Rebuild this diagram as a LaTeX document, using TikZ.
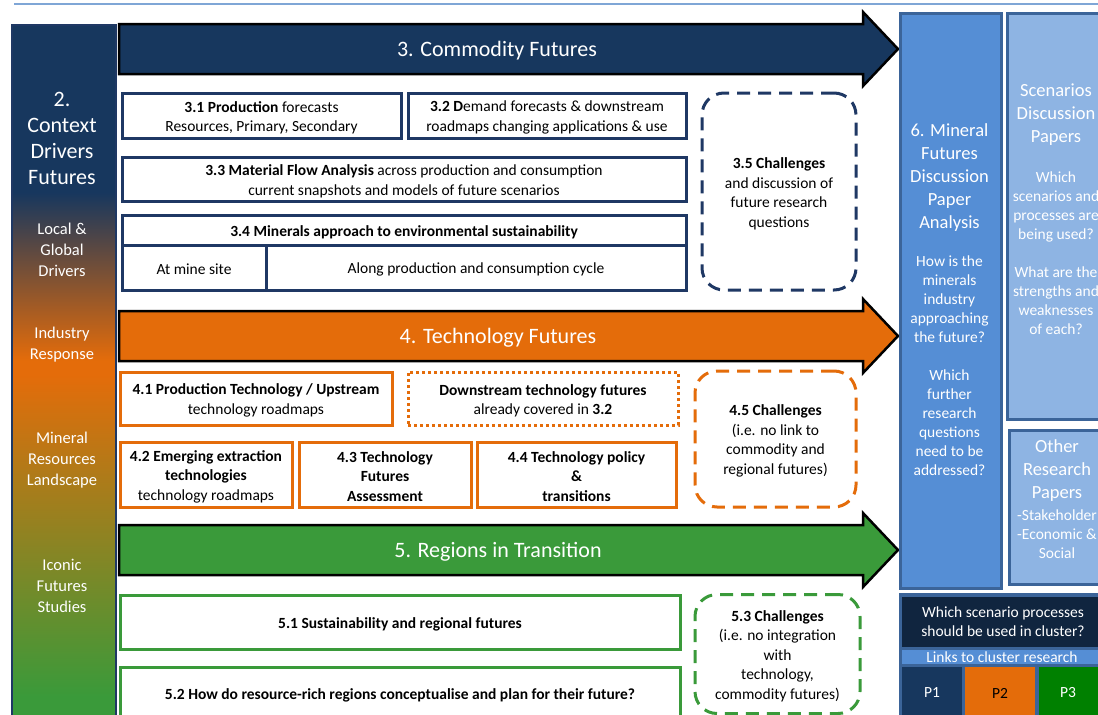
\documentclass[tikz,border=0pt]{standalone}
\usepackage{fontspec}
\setmainfont{Carlito}
\usepackage{tikz}

\definecolor{comnavy}{HTML}{17375E}
\definecolor{boxnavy}{HTML}{1F3864}
\definecolor{tecorange}{HTML}{E46C0A}
\definecolor{regreen}{HTML}{3A9A3A}
\definecolor{colblue}{HTML}{558ED5}
\definecolor{colborder}{HTML}{3B6499}
\definecolor{scenblue}{HTML}{8EB4E3}
\definecolor{darknavy}{HTML}{10253F}
\definecolor{pgreen}{HTML}{008000}
\definecolor{topline}{HTML}{7FA6D6}

\pgfdeclareverticalshading{ctxshade}{100bp}{color(0bp)=(regreen); color(27bp)=(regreen); color(50bp)=(tecorange); color(51bp)=(tecorange); color(63bp)=(comnavy); color(100bp)=(comnavy)}

\newcommand{\bodyfont}{\fontsize{15.5}{19.5}\selectfont}
\newcommand{\arrowfont}{\fontsize{22}{26}\selectfont}
\newcommand{\ctxbig}{\fontsize{22}{26}\selectfont}
\newcommand{\ctxsmall}{\fontsize{16.5}{21}\selectfont}
\newcommand{\colbig}{\fontsize{18.5}{23}\selectfont}
\newcommand{\colsmall}{\fontsize{15.5}{19}\selectfont}
% taller first line, pushes box text down a little
\newcommand{\tstrut}{\rule{0pt}{15pt}}

\begin{document}
\begin{tikzpicture}[x=1pt, y=-1pt,
	navybox/.style={draw=boxnavy, line width=3pt, fill=white, inner sep=0pt, align=center, font=\bodyfont},
	orangebox/.style={navybox, draw=tecorange},
	greenbox/.style={navybox, draw=regreen},
	challenge/.style={navybox, rounded corners=22pt, dash pattern=on 13pt off 8pt},
	bigarrow/.style={draw=black, line width=2.5pt},
	arrowlabel/.style={text=white, font=\arrowfont},
	colbox/.style={draw=colborder, line width=3pt, inner sep=0pt, anchor=north west},
	coltext/.style={text=white, align=center, inner sep=0pt}]
	\useasboundingbox (0,0) rectangle (1098,715);
	\draw[topline, line width=1.5pt] (14,4) -- (1098,4);
	% 2. context column
	\node[draw=boxnavy, line width=2pt, shading=ctxshade, inner sep=0pt, minimum width=104, minimum height=700, anchor=north west] (ctx) at (10.5,23.5) {};
	\node[coltext, font=\ctxbig] (ctxtitle) at (62,138) {2.\\Context\\Drivers\\Futures};
	\node[coltext, font=\ctxsmall] (ctxlocal) at (62,249.5) {Local \&\\Global\\Drivers};
	\node[coltext, font=\ctxsmall] (ctxindustry) at (62,344.5) {Industry\\Response};
	\node[coltext, font=\ctxsmall] (ctxmineral) at (62,460) {Mineral\\Resources\\Landscape};
	\node[coltext, font=\ctxsmall] (ctxiconic) at (62,585.5) {Iconic\\Futures\\Studies};
	% 3. commodity futures
	\draw[bigarrow, fill=comnavy] (119,24) -- (863,24) -- (863,12) -- (898,49) -- (863,86) -- (863,74) -- (119,74) -- cycle;
	\node[arrowlabel] (comlabel) at (497,51) {3. Commodity Futures};
	\node[navybox, minimum width=279, minimum height=45] (c31) at (261.5,115.5) {\tstrut\textbf{3.1 Production} forecasts\\Resources, Primary, Secondary};
	\node[navybox, minimum width=278, minimum height=45] (c32) at (547,115.5) {\tstrut\textbf{3.2 D}emand forecasts \& downstream\\roadmaps changing applications \& use};
	\node[navybox, minimum width=564, minimum height=44] (c33) at (404,179) {\tstrut\textbf{3.3 Material Flow Analysis} across production and consumption\\current snapshots and models of future scenarios};
	\node[navybox, minimum width=564, minimum height=30] (c34) at (404,230) {\tstrut\textbf{3.4 Minerals approach to environmental sustainability}};
	\node[navybox, minimum width=144, minimum height=45] (c34a) at (194,267.5) {\tstrut At mine site};
	\node[navybox, minimum width=420, minimum height=45] (c34b) at (476,267.5) {\tstrut Along production and consumption cycle};
	\node[challenge, minimum width=154, minimum height=197] (c35) at (779,191.5) {\tstrut\textbf{3.5 Challenges}\\and discussion of\\future research\\questions};
	% 4. technology futures
	\draw[bigarrow, fill=tecorange] (119,311) -- (863,311) -- (863,299) -- (898,336) -- (863,373) -- (863,361) -- (119,361) -- cycle;
	\node[arrowlabel] (teclabel) at (498,338) {4. Technology Futures};
	\node[orangebox, minimum width=272, minimum height=53] (t41) at (256,398.5) {\tstrut\textbf{4.1 Production Technology / Upstream}\\technology roadmaps};
	\node[orangebox, dash pattern=on 3pt off 3pt, minimum width=270, minimum height=53] (tdown) at (543,398.5) {\tstrut\textbf{Downstream technology futures}\\already covered in \textbf{3.2}};
	\node[orangebox, minimum width=172, minimum height=65] (t42) at (206,474.5) {\tstrut\textbf{4.2 Emerging extraction}\\\textbf{technologies}\\technology roadmaps};
	\node[orangebox, minimum width=172, minimum height=65] (t43) at (385,474.5) {\tstrut\textbf{4.3 Technology}\\\textbf{Futures}\\\textbf{Assessment}};
	\node[orangebox, minimum width=199, minimum height=65] (t44) at (576.5,474.5) {\tstrut\textbf{4.4 Technology policy}\\\textbf{\&}\\\textbf{transitions}};
	\node[challenge, draw=tecorange, minimum width=161, minimum height=136] (t45) at (775.5,439) {\tstrut\textbf{4.5 Challenges}\\(i.e. no link to\\commodity and\\regional futures)};
	% 5. regions in transition
	\draw[bigarrow, fill=regreen] (119,525) -- (863,525) -- (863,513) -- (898,550) -- (863,587) -- (863,575) -- (119,575) -- cycle;
	\node[arrowlabel] (reglabel) at (498,552) {5. Regions in Transition};
	\node[greenbox, minimum width=560, minimum height=54] (r51) at (400,622) {\tstrut\textbf{5.1 Sustainability and regional futures}};
	\node[greenbox, minimum width=560, minimum height=53] (r52) at (400,693.5) {\tstrut\textbf{5.2 How do resource-rich regions conceptualise and plan for their future?}};
	\node[challenge, draw=regreen, minimum width=165, minimum height=119] (r53) at (777.5,654) {\tstrut\textbf{5.3 Challenges}\\(i.e. no integration\\with\\technology,\\commodity futures)};
	% 6. discussion paper columns
	\node[colbox, fill=colblue, minimum width=101, minimum height=575] (paper) at (899,12) {};
	\node[coltext, font=\colbig] (papertitle) at (949.5,177.5) {6. Mineral\\Futures\\Discussion\\Paper\\Analysis};
	\node[coltext, font=\colsmall] (paperq) at (949.5,366) {How is the\\minerals\\industry\\approaching\\the future?\\[19pt]Which\\further\\research\\questions\\need to be\\addressed?};
	\node[colbox, fill=scenblue, minimum width=104, minimum height=406] (scen) at (1006,12) {};
	\node[coltext, font=\colbig] (scentitle) at (1056,114.5) {Scenarios\\Discussion\\Papers};
	\node[coltext, font=\colsmall] (scenq) at (1056,253.5) {Which\\scenarios and\\processes are\\being used?\\[19pt]What are the\\strengths and\\weaknesses\\of each?};
	\node[colbox, fill=scenblue, minimum width=102, minimum height=154] (other) at (1008,429) {};
	\node[coltext, font=\colbig] (othertitle) at (1057,471) {Other\\Research\\Papers};
	\node[coltext, font=\colsmall] (othersub) at (1057,534) {-Stakeholder\\-Economic \&\\Social};
	% cluster links
	\node[colbox, fill=colborder, minimum width=211, minimum height=127] (cluster) at (899,593) {};
	\fill[darknavy] (902,597) rectangle (1110,647);
	\fill[colblue] (902,650) rectangle (1110,664);
	\fill[comnavy] (902,667) rectangle (962,720);
	\fill[tecorange] (965,667) rectangle (1035,720);
	\fill[pgreen] (1039,667) rectangle (1110,720);
	\node[coltext, font=\colsmall] (clusterq) at (1003,622) {Which scenario processes\\should be used in cluster?};
	\node[coltext, font=\colsmall] (clusterlinks) at (1002,657.5) {Links to cluster research};
	\node[coltext, font=\colsmall] (p1) at (932,693) {P1};
	\node[coltext, font=\colsmall, text=black] (p2) at (1000,693) {P2};
	\node[coltext, font=\colsmall] (p3) at (1068,693) {P3};
\end{tikzpicture}
\end{document}
